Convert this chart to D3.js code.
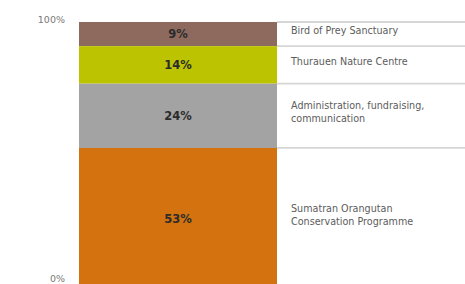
<!doctype html>
<html lang="en">
<head>
	<meta charset="utf-8">
	<title>Use of funds</title>
	<style>
		body { margin: 0; background: #fff; }
		svg { display: block; font-family: "DejaVu Sans", "Liberation Sans", sans-serif; }
	</style>
</head>
<body>
	<svg id="Chart"></svg>

	<script src="https://cdn.jsdelivr.net/npm/d3@7/dist/d3.min.js"></script>
	<script>
		(function () {
			"use strict"

			// data, top segment first
			var categories = [
				[ "Bird of Prey Sanctuary" ],
				[ "Thurauen Nature Centre" ],
				[ "Administration, fundraising,", "communication" ],
				[ "Sumatran Orangutan", "Conservation Programme" ]
			];
			var shares = [ 9, 14, 24, 53 ];
			var colors = [ "#8d6a5d", "#bcc401", "#a3a3a3", "#d3720f" ];
			var tickLabels = [ "0%", "100%" ];

			var width = 465, height = 284;

			var svg = d3.select("#Chart")
				.attr("width", width)
				.attr("height", height);

			// stack from the top down
			var stacked = [], acc = 100;
			shares.forEach(function (v, i) {
				stacked.push({ top: acc, bottom: acc - v, value: v, name: categories[i], color: colors[i] });
				acc -= v;
			});

			var y = d3.scaleLinear([ 0, 100 ], [ 290, 22 ]),
				barX = 79, barW = 198,
				legendX = 277;

			// legend rows
			var rows = svg.append("g");
			rows.selectAll("line")
				.data(stacked)
				.join("line")
					.attr("x1", legendX)
					.attr("x2", width)
					.attr("y1", function (d) { return y(d.top); })
					.attr("y2", function (d) { return y(d.top); })
					.attr("stroke", "#d6d6d6")
					.attr("stroke-width", 1.8);

			var labels = rows.selectAll("text")
				.data(stacked)
				.join("text")
					.attr("y", function (d) {
						return (y(d.top) + y(d.bottom)) / 2 - (d.name.length - 1) * 6.5;
					})
					.attr("dy", "0.36em")
					.attr("font-size", 9.6)
					.attr("fill", "#5c5c5c");
			labels.selectAll("tspan")
				.data(function (d) { return d.name; })
				.join("tspan")
					.attr("x", legendX + 14)
					.attr("dy", function (d, i) { return i ? 13 : 0; })
					.text(function (d) { return d; });

			// bar segments
			svg.append("g")
				.selectAll("rect")
				.data(stacked)
				.join("rect")
					.attr("x", barX)
					.attr("width", barW)
					.attr("y", function (d) { return y(d.top); })
					.attr("height", function (d) { return y(d.bottom) - y(d.top); })
					.attr("fill", function (d) { return d.color; });

			svg.append("g")
				.selectAll("text")
				.data(stacked)
				.join("text")
					.attr("x", barX + barW / 2)
					.attr("y", function (d) { return (y(d.top) + y(d.bottom)) / 2; })
					.attr("dy", "0.36em")
					.attr("text-anchor", "middle")
					.attr("font-size", 11.5)
					.attr("font-weight", "bold")
					.attr("fill", "#2b2b2b")
					.text(function (d) { return d.value + "%"; });

			// axis end labels
			svg.append("g")
				.selectAll("text")
				.data([ 0, 100 ])
				.join("text")
					.attr("x", 65)
					.attr("y", function (d) { return d ? y(d) - 2 : height - 5; })
					.attr("dy", "0.32em")
					.attr("text-anchor", "end")
					.attr("font-size", 9.5)
					.attr("fill", "#7a7a7a")
					.text(function (d, i) { return tickLabels[i]; });
		})();
	</script>
</body>
</html>
